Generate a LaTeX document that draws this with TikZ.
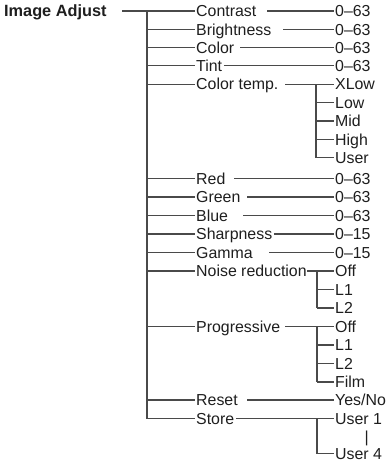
\documentclass[tikz,border=0pt]{standalone}
\usepackage{fontspec}
\setmainfont{Liberation Sans}
\definecolor{txt}{HTML}{1E1E1E}
\definecolor{ln}{HTML}{4A4A4A}
\begin{document}
\begin{tikzpicture}[x=1pt,y=-1pt,
  lbl/.style={anchor=west,inner ysep=0pt,inner xsep=1.5pt,text height=11.4pt,text depth=0pt,
    text=txt,font=\fontsize{15.9}{18}\selectfont},
  conn/.style={draw=ln,line width=1.3pt}]
\useasboundingbox (0,0) rectangle (389,462);
% root
\node[lbl,font=\fontsize{16.3}{18}\selectfont\bfseries,inner xsep=0pt] (ia) at (4,11) {Image Adjust};
% level 2
\node[lbl] (contrast) at (194.5,11) {Contrast};
\node[lbl] (bright) at (194.5,29.4) {Brightness};
\node[lbl] (color) at (194.5,47.5) {Color};
\node[lbl] (tint) at (194.5,65.6) {Tint};
\node[lbl] (ctemp) at (194.5,84.2) {Color temp.};
\node[lbl] (red) at (194.5,178.5) {Red};
\node[lbl] (green) at (194.5,197) {Green};
\node[lbl] (blue) at (194.5,215.5) {Blue};
\node[lbl] (sharp) at (194.5,234) {Sharpness};
\node[lbl] (gamma) at (194.5,252.5) {Gamma};
\node[lbl] (noise) at (194.5,271) {Noise reduction};
\node[lbl] (prog) at (194.5,326.5) {Progressive};
\node[lbl] (reset) at (194.5,400) {Reset};
\node[lbl] (store) at (194.5,418.5) {Store};
% level 3
\node[lbl] (v1) at (333.5,11) {0–63};
\node[lbl] (v2) at (333.5,29.4) {0–63};
\node[lbl] (v3) at (333.5,47.5) {0–63};
\node[lbl] (v4) at (333.5,65.6) {0–63};
\node[lbl] (ct1) at (333.5,84.2) {XLow};
\node[lbl] (ct2) at (333.5,102.6) {Low};
\node[lbl] (ct3) at (333.5,121) {Mid};
\node[lbl] (ct4) at (333.5,139.4) {High};
\node[lbl] (ct5) at (333.5,157.8) {User};
\node[lbl] (v5) at (333.5,178.5) {0–63};
\node[lbl] (v6) at (333.5,197) {0–63};
\node[lbl] (v7) at (333.5,215.5) {0–63};
\node[lbl] (v8) at (333.5,234) {0–15};
\node[lbl] (v9) at (333.5,252.5) {0–15};
\node[lbl] (nr1) at (333.5,271) {Off};
\node[lbl] (nr2) at (333.5,289.5) {L1};
\node[lbl] (nr3) at (333.5,308) {L2};
\node[lbl] (pr1) at (333.5,326.5) {Off};
\node[lbl] (pr2) at (333.5,345) {L1};
\node[lbl] (pr3) at (333.5,363.5) {L2};
\node[lbl] (pr4) at (333.5,382) {Film};
\node[lbl] (rs) at (333.5,400) {Yes/No};
\node[lbl] (st1) at (333.5,418.5) {User 1};
\node[lbl,inner xsep=0pt] (bar) at (364.5,436.5) {|};
\node[lbl] (st4) at (333.5,453.5) {User 4};
% root to first
\draw[conn] (122,0 |- ia) -- (contrast.west);
% main trunk
\draw[conn] (147,0 |- contrast) -- (147,0 |- store);
\foreach \n in {bright,color,tint,ctemp,red,green,blue,sharp,gamma,noise,prog,reset,store}
  \draw[conn] (147,0 |- \n) -- (\n.west);
% level 2 to level 3
\draw[conn] (267,0 |- contrast) -- (v1.west);
\draw[conn] (283,0 |- bright) -- (v2.west);
\draw[conn] (240,0 |- color) -- (v3.west);
\draw[conn] (tint.east) -- (v4.west);
\draw[conn] (285,0 |- ctemp) -- (ct1.west);
\draw[conn] (234,0 |- red) -- (v5.west);
\draw[conn] (247,0 |- green) -- (v6.west);
\draw[conn] (243,0 |- blue) -- (v7.west);
\draw[conn] (sharp.east) -- (v8.west);
\draw[conn] (269,0 |- gamma) -- (v9.west);
\draw[conn] (307,0 |- noise) -- (nr1.west);
\draw[conn] (285,0 |- prog) -- (pr1.west);
\draw[conn] (247,0 |- reset) -- (rs.west);
\draw[conn] (store.east) -- (st1.west);
% sub trunks
\draw[conn] (316,0 |- ct1) -- (316,0 |- ct5);
\foreach \n in {ct2,ct3,ct4,ct5} \draw[conn] (316,0 |- \n) -- (\n.west);
\draw[conn] (317,0 |- nr1) -- (317,0 |- nr3);
\foreach \n in {nr2,nr3} \draw[conn] (317,0 |- \n) -- (\n.west);
\draw[conn] (317,0 |- pr1) -- (317,0 |- pr4);
\foreach \n in {pr2,pr3,pr4} \draw[conn] (317,0 |- \n) -- (\n.west);
\draw[conn] (317,0 |- st1) -- (317,0 |- st4);
\draw[conn] (317,0 |- st4) -- (st4.west);
\end{tikzpicture}
\end{document}
